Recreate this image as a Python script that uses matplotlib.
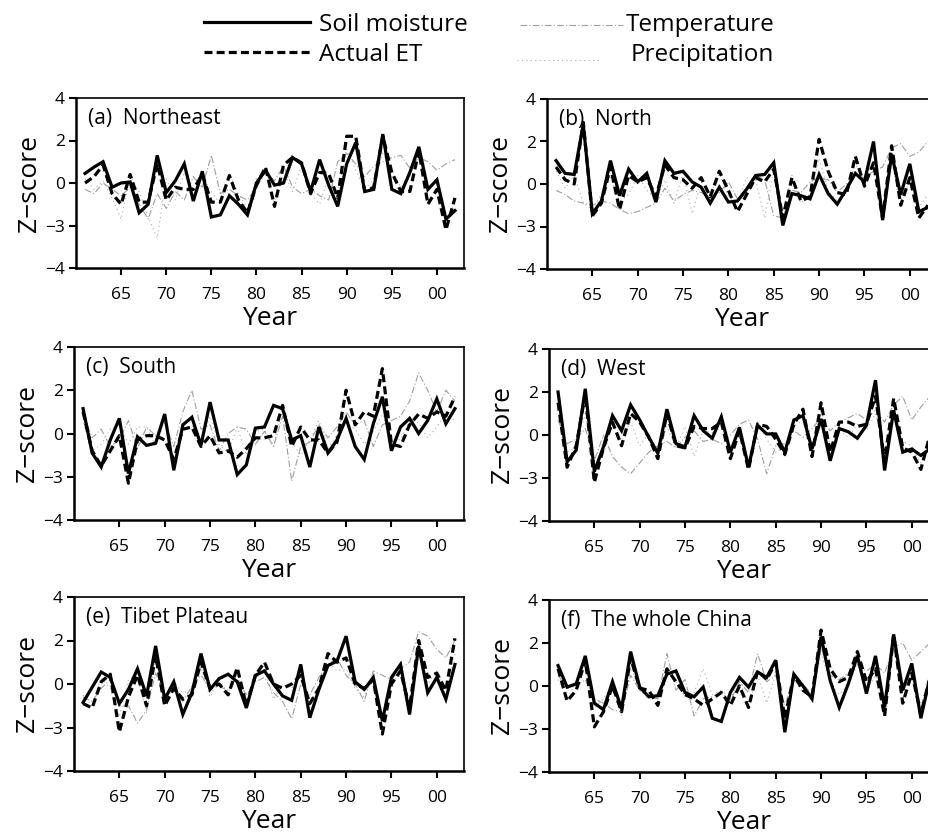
import numpy as np
import matplotlib
matplotlib.use("Agg")
import matplotlib.pyplot as plt
from matplotlib.lines import Line2D

plt.rcParams['font.family'] = ['Open Sans', 'DejaVu Sans']

years = np.arange(1961, 2003)

# Standardised anomalies (Z-score) per region
soil_moisture = {
    "a": [0.45, 0.75, 1.0, -0.2, 0.0, 0.05, -1.4, -1.0, 1.3, -0.45,
          0.1, 0.9, -0.85, 0.55, -1.6, -1.5, -0.6, -1.0, -1.5, 0.0,
          0.6, -0.1, 0.0, 1.2, 0.9, -0.4, 1.1, -0.1, -1.1, 0.9,
          1.9, -0.4, -0.3, 2.3, -0.3, -0.5, 0.5, 1.7, -0.3, 0.15,
          -1.7, -1.3],
    "b": [1.1, 0.5, 0.45, 2.8, -1.4, -0.8, 1.1, -0.55, 0.7, 0.1,
          0.5, -0.85, 1.1, 0.5, 0.6, 0.1, -0.15, -0.9, -0.15, -0.85,
          -0.8, -0.25, 0.4, 0.45, 1.0, -1.95, -0.45, -0.55, -0.7, 0.45,
          -0.45, -0.95, -0.25, 0.5, 0.1, 2.0, -1.7, 1.4, -0.5, 0.95,
          -1.3, -1.1],
    "c": [1.15, -0.9, -1.55, -0.3, 0.7, -1.85, -0.15, -0.55, -0.45, 0.9,
          -1.7, 0.4, 0.75, -0.55, 1.45, -0.3, -0.3, -1.9, -1.45, 0.25,
          0.3, 1.3, 1.15, -0.3, -0.1, -1.55, 0.3, -0.9, -0.3, 0.7,
          -0.6, -1.2, 0.45, 1.7, -0.8, 0.3, 0.7, 0.0, 0.6, 1.6,
          0.45, 1.15],
    "d": [2.0, -1.25, -0.7, 2.15, -1.7, -0.55, 0.9, 0.2, 1.4, 0.7,
          -0.1, -0.85, 1.2, -0.4, -0.55, 0.9, 0.2, -0.15, 0.85, -0.8,
          0.35, -1.5, 0.45, 0.05, 0.05, -0.8, 0.7, 0.9, -0.65, 0.75,
          -1.2, 0.3, 0.15, -0.15, 0.45, 2.55, -1.65, 1.15, -0.8, -0.65,
          -0.95, -0.65],
    "e": [-0.85, -0.15, 0.55, 0.3, -0.9, -0.25, 0.7, -0.55, 1.75, -0.7,
          0.1, -1.4, -0.4, 1.4, -0.25, 0.25, 0.45, 0.1, -1.1, 0.4,
          0.6, 0.0, -0.55, -0.75, 0.9, -1.55, -0.25, 0.85, 1.05, 2.2,
          0.1, -0.25, 0.3, -1.7, 0.3, 0.9, -1.4, 1.75, -0.4, 0.3,
          -0.7, 0.9],
    "f": [0.95, -0.05, 0.1, 1.4, -0.8, -1.1, 0.2, -1.05, 1.6, -0.05,
          -0.5, -0.45, 0.55, 0.7, -0.3, -0.5, -0.05, -1.5, -1.65, -0.3,
          0.4, -0.05, 0.65, 0.4, 1.2, -2.15, 0.55, 0.0, -0.6, 2.3,
          0.25, -1.0, 0.1, 1.4, -0.35, 1.4, -1.0, 2.4, -0.2, 1.05,
          -1.5, 0.4],
}

actual_et = {
    "a": [0.0, 0.3, 0.85, -0.5, -1.0, 0.4, -0.9, -0.9, 0.9, -0.8,
          -0.2, -0.3, -0.3, 0.4, -0.9, -0.9, 0.35, -0.8, -1.4, -0.1,
          0.75, -1.1, 0.85, 1.2, 0.95, -0.5, 0.5, 0.45, -0.7, 2.2,
          2.2, -0.4, -0.2, 2.2, 0.5, -0.4, -0.4, 1.5, -1.0, -0.3,
          -2.2, -0.7],
    "b": [0.8, 0.2, 0.0, 2.9, -1.5, -0.9, 0.8, -1.2, 0.4, 0.1,
          0.3, -0.6, 0.9, 0.3, 0.2, -0.2, 0.3, -0.6, 0.6, -0.3,
          -1.3, -0.5, 0.3, 0.1, 0.7, -1.6, 0.3, -0.8, -0.6, 2.1,
          0.6, -0.4, -0.5, 1.3, -0.1, 1.0, -1.6, 1.8, -1.0, 0.3,
          -1.6, -1.0],
    "c": [1.0, -0.8, -1.5, -0.8, -0.1, -2.3, -0.3, -0.1, -0.1, -0.3,
          -1.2, 0.2, 0.3, -0.6, -0.1, -0.9, -0.8, -1.1, -0.7, -0.2,
          -0.2, -0.1, 1.3, -0.6, 0.3, -0.3, -0.3, -0.9, -0.4, 2.0,
          0.4, 1.0, 0.8, 3.0, -0.5, -0.6, 0.4, 0.9, 0.7, 1.0,
          0.8, 1.7],
    "d": [1.5, -1.5, -0.5, 1.9, -2.2, -0.6, 0.6, -0.5, 1.0, 0.6,
          -0.1, -1.1, 1.0, -0.5, -0.6, 0.4, 0.3, 0.3, 0.6, -1.1,
          0.2, -1.6, 0.5, 0.4, -0.2, -0.9, 0.5, 1.2, -1.0, 1.5,
          -0.8, 0.6, 0.6, 0.4, 0.5, 1.8, -1.2, 1.7, -0.6, -0.8,
          -1.6, 0.0],
    "e": [-0.9, -1.1, 0.1, 0.45, -2.2, -0.6, 0.4, -1.0, 1.3, -1.0,
          -0.2, -0.7, -0.5, 1.0, -0.2, 0.0, -0.5, 0.75, -1.0, 0.4,
          1.0, 0.0, -0.2, 0.0, 0.4, -0.9, -0.2, 1.4, 1.0, 1.2,
          0.0, -0.2, 0.2, -2.3, 0.0, 0.6, -1.1, 2.0, 0.3, 0.5,
          -0.3, 2.1],
    "f": [0.8, -0.7, -0.2, 1.2, -1.9, -1.2, 0.0, -1.2, 1.3, -0.1,
          -0.2, -0.9, 0.8, 0.2, -0.4, -0.6, -0.9, -0.6, -0.3, -0.9,
          0.0, -1.0, 0.7, 0.3, 1.1, -1.5, 0.5, -0.2, -0.5, 2.6,
          0.8, 0.2, 0.4, 1.6, 0.2, 0.8, -1.4, 2.4, -0.8, 0.6,
          -1.3, 0.4],
}

temperature = {
    "a": [-0.3, -0.5, 0.0, -0.3, -0.6, -0.2, -1.0, -1.7, -0.5, -1.2,
          -0.4, -0.8, 0.3, -0.2, 1.3, -0.5, -0.3, -0.6, -0.8, -0.2,
          0.5, 0.1, 0.8, -0.2, -0.5, -0.3, -0.6, -0.8, 1.0, 1.4,
          0.9, 0.3, 0.8, 1.0, 1.2, 1.3, 0.7, 1.2, 1.0, 0.6,
          0.9, 1.1],
    "b": [-0.3, -0.5, -0.8, -0.9, -1.0, -0.8, -0.9, -1.2, -1.4, -1.3,
          -1.1, -0.9, -0.2, -0.8, -0.5, -0.3, -0.4, -0.6, -0.4, 0.1,
          -0.7, -0.2, 0.4, 0.2, -1.5, -1.6, -0.3, -0.4, 0.1, 0.3,
          0.2, -0.4, 0.0, 0.4, 0.3, 0.6, 0.8, 1.7, 1.9, 1.3,
          1.5, 2.0],
    "c": [0.9, -0.2, 0.2, -0.6, -0.3, 0.6, -0.7, 0.3, -0.1, 0.5,
          -0.6, 1.0, 2.0, 0.2, 0.4, -0.8, 0.0, 0.3, 0.2, -0.5,
          0.1, -0.6, 0.8, -2.2, -0.6, -0.4, 0.4, -0.2, 0.3, 1.0,
          0.4, 0.6, -0.6, 0.4, 0.6, 0.8, 1.5, 2.8, 2.0, 1.0,
          2.0, 1.5],
    "d": [0.7, -0.4, -0.2, 0.3, -1.2, 0.0, -1.0, -1.5, -1.8, -1.3,
          -0.8, -0.5, -0.3, -0.6, -0.1, 0.2, -0.3, -0.2, -0.4, 0.0,
          0.5, 0.7, -0.2, -1.8, -0.5, -0.4, 0.2, -0.1, 0.3, 0.8,
          0.2, 0.6, 0.8, 1.0, 0.7, 1.2, 0.6, 1.4, 1.8, 0.7,
          1.3, 1.8],
    "e": [-0.6, -0.8, -0.2, 0.2, -1.0, -1.0, -1.8, -1.2, 0.5, -0.6,
          -0.3, -0.8, -0.1, 0.4, -0.2, -0.1, -0.3, 0.2, -0.5, 0.1,
          0.3, -0.4, -0.8, -1.6, 0.0, -0.5, 0.3, 0.9, 1.2, 0.4,
          0.0, -0.8, 0.6, 0.4, 0.2, 0.7, 1.0, 2.4, 2.2, 1.6,
          1.2, 2.0],
    "f": [0.5, -0.1, 0.0, 0.3, -0.6, -0.8, -1.1, -1.2, 0.5, -0.2,
          -0.5, -0.6, 1.5, -0.2, 0.3, -1.4, -0.6, -0.5, -0.3, -0.7,
          0.2, -0.3, 1.5, 0.2, 0.5, -0.9, 0.3, 0.1, -0.4, 1.8,
          0.5, 0.3, 0.6, 1.0, 0.7, 1.0, 0.6, 1.8, 2.0, 1.2,
          1.6, 2.0],
}

precipitation = {
    "a": [0.2, -0.3, 0.1, -0.7, -1.7, 0.3, -0.4, -1.6, -2.6, 0.2,
          -0.8, 0.5, -0.6, 0.3, -0.4, -1.0, 0.4, -0.5, -1.2, 0.2,
          0.6, -1.0, 0.5, -0.4, 0.8, -0.5, -1.0, 0.3, -0.5, 1.6,
          0.6, -0.3, 0.2, 1.4, 0.6, -0.2, 0.3, 1.5, -0.4, 0.2,
          -1.8, -0.9],
    "b": [0.6, -0.2, 0.4, -0.9, -1.2, -0.5, 0.3, -0.8, -0.5, 0.4,
          -0.3, -0.7, 0.2, -0.9, 0.5, -1.4, 0.1, -0.5, 0.5, -0.6,
          -0.9, 0.3, 0.2, -1.6, 0.7, -1.4, 0.4, -0.9, -0.5, 1.2,
          -0.3, -0.8, -0.4, 1.0, -0.2, 0.8, -1.3, 1.0, -0.9, 0.2,
          -1.1, -0.5],
    "c": [0.5, -0.8, -0.5, 0.2, 0.4, -0.5, 0.3, 0.3, -0.6, 0.6,
          -1.3, 0.1, 0.4, -0.3, 0.8, -0.5, -0.9, 0.3, -1.0, 0.1,
          0.2, -0.6, 1.2, -0.4, -1.0, -0.3, 0.6, -0.7, -0.1, 0.5,
          0.2, -0.5, 0.1, 0.9, -0.2, -0.3, 0.6, 0.5, -0.2, 0.3,
          0.9, 0.6],
    "d": [1.2, -0.8, -0.6, 1.0, -1.6, -0.9, 0.5, -0.2, 0.6, -0.5,
          0.1, -1.0, 0.4, -0.6, 0.4, -1.0, 0.2, 0.1, 0.7, -0.9,
          0.4, -1.2, 0.6, -0.2, -0.8, -0.6, 0.4, 0.7, -0.8, 1.2,
          -0.5, 0.2, -0.1, 0.5, 0.2, 1.0, -0.8, 0.9, -0.3, -0.5,
          -1.3, -0.5],
    "e": [-0.5, -1.0, 0.3, -0.2, -1.5, 0.2, 0.4, -1.3, 1.2, -0.9,
          0.1, -0.4, -0.3, 0.8, -0.6, 0.2, -0.4, 0.5, -0.9, 0.2,
          0.7, -0.7, 0.0, -0.2, 0.3, -0.8, -0.3, 1.0, 0.6, 0.7,
          -0.2, -0.6, 0.5, -1.8, 0.1, 0.4, -1.3, 1.4, 0.0, 0.6,
          -0.5, 1.4],
    "f": [0.3, -0.6, 0.2, 0.8, -1.0, -0.6, 0.1, -1.4, 0.9, -0.2,
          -0.6, -0.4, 0.7, 0.2, -0.5, -0.3, 0.8, -0.4, -0.2, -0.6,
          0.3, -0.9, 0.5, -0.8, 0.6, -1.2, 0.3, -0.3, -0.4, 1.5,
          0.2, -0.4, 0.1, 1.0, -0.2, 0.5, -0.9, 1.6, -0.3, 0.5,
          -0.8, 0.3],
}

panel_titles = {
    "a": "(a)  Northeast",
    "b": "(b)  North",
    "c": "(c)  South",
    "d": "(d)  West",
    "e": "(e)  Tibet Plateau",
    "f": "(f)  The whole China",
}

xtick_years = [1965, 1970, 1975, 1980, 1985, 1990, 1995, 2000]
xtick_labels = ["65", "70", "75", "80", "85", "90", "95", "00"]
ytick_values = [-4, -2, 0, 2, 4]
ytick_labels = ["\u22124", "\u22123", "0", "2", "4"]

W, H = 929, 835
fig = plt.figure(figsize=(W / 100, H / 100), dpi=100)

# panel boxes in pixels: left, top, right, bottom
boxes = {
    "a": (76, 98, 464, 268),
    "b": (547, 99, 937, 269),
    "c": (74, 347, 464, 520),
    "d": (549, 349, 939, 521),
    "e": (74, 597, 464, 771),
    "f": (549, 600, 939, 772),
}

sm_style = dict(color="black", lw=2.3, solid_joinstyle="miter")
et_style = dict(color="black", lw=2.3, dashes=(2.5, 1.3))
tp_style = dict(color="0.62", lw=0.8, dashes=(6, 2, 1, 2))
pr_style = dict(color="0.68", lw=0.8, dashes=(1, 3))

for key, (l, t, r, b) in boxes.items():
    ax = fig.add_axes([l / W, 1 - b / H, (r - l) / W, (b - t) / H])
    ax.plot(years, precipitation[key], **pr_style)
    ax.plot(years, temperature[key], **tp_style)
    ax.plot(years, actual_et[key], **et_style)
    ax.plot(years, soil_moisture[key], **sm_style)
    ax.set_xlim(1960, 2003)
    ax.set_ylim(-4, 4)
    ax.set_xticks(xtick_years)
    ax.set_xticklabels(xtick_labels)
    ax.set_yticks(ytick_values)
    ax.set_yticklabels(ytick_labels)
    ax.tick_params(axis="both", direction="out", length=5, width=1.5,
                   labelsize=12.5, pad=3, colors="black")
    ax.tick_params(axis="x", pad=9)
    ax.spines["left"].set_linewidth(1.8)
    ax.spines["bottom"].set_linewidth(1.8)
    ax.spines["top"].set_linewidth(1.2)
    ax.spines["right"].set_linewidth(1.2)
    ax.set_xlabel("Year", fontsize=19, labelpad=1.5)
    ax.set_ylabel("Z\u2212score", fontsize=19, labelpad=2)
    ax.text(0.03, 0.94, panel_titles[key], transform=ax.transAxes,
            fontsize=15, va="top", ha="left")

# figure legend at the top
def legend_entry(x0, x1, y_line, label, style, tx, y_base):
    fig.add_artist(Line2D([x0 / W, x1 / W], [1 - y_line / H, 1 - y_line / H],
                          transform=fig.transFigure, **style))
    fig.text(tx / W, 1 - y_base / H, label, fontsize=17.5, va="baseline", ha="left")

legend_entry(204, 310, 22, "Soil moisture", sm_style, 319, 31)
legend_entry(204, 312, 52, "Actual ET", et_style, 319, 61)
legend_entry(520, 623, 25, "Temperature", tp_style, 626, 31)
legend_entry(517, 600, 60, "Precipitation", pr_style, 631, 61)

fig.savefig("out.png", dpi=100)
